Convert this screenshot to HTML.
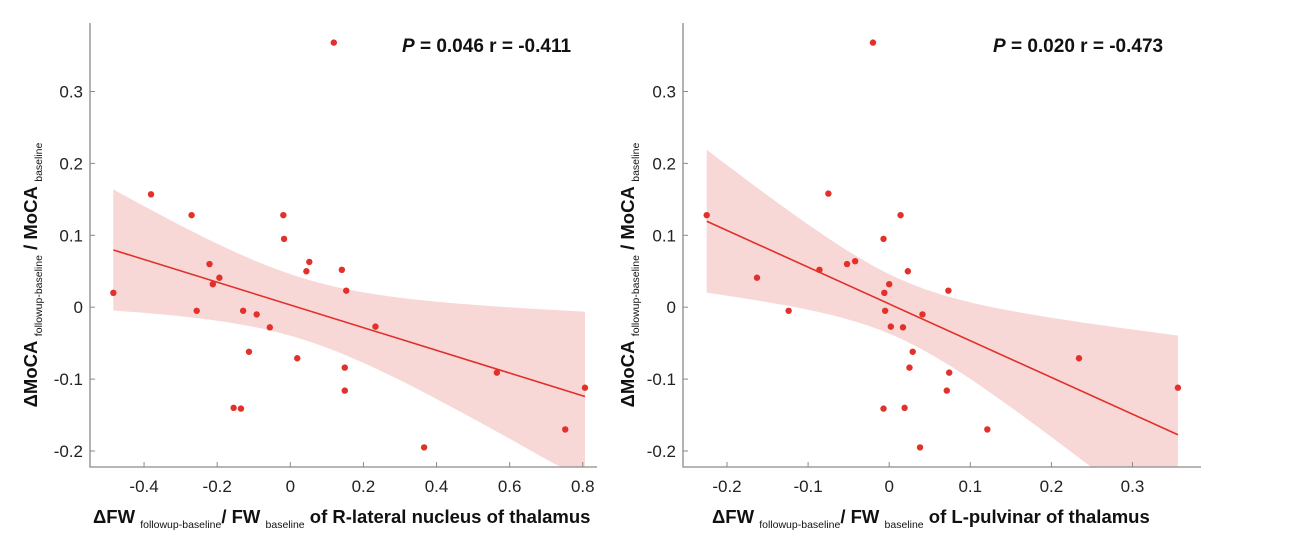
<!DOCTYPE html>
<html><head><meta charset="utf-8"><style>
html,body{margin:0;padding:0;background:#fff;}
svg{display:block;font-family:"Liberation Sans",Arial,sans-serif;}
</style></head><body>
<svg id="chart" width="1301" height="550" viewBox="0 0 1301 550"></svg>
<script>
const yValues=[0.368,0.157,0.128,0.128,0.095,0.063,0.050,0.052,0.023,0.060,0.041,0.032,0.020,-0.005,-0.005,-0.010,-0.028,-0.027,-0.062,-0.071,-0.084,-0.116,-0.091,-0.112,-0.140,-0.141,-0.170,-0.195];
const xLeft=[0.119,-0.381,-0.270,-0.019,-0.017,0.052,0.044,0.141,0.153,-0.221,-0.194,-0.212,-0.484,-0.256,-0.129,-0.092,-0.056,0.233,-0.113,0.019,0.149,0.149,0.565,0.806,-0.155,-0.135,0.752,0.366];
const yRight=[0.368,0.158,0.128,0.128,0.095,0.064,0.060,0.050,0.052,0.041,0.032,0.023,0.020,-0.005,-0.005,-0.010,-0.027,-0.028,-0.062,-0.084,-0.091,-0.116,-0.071,-0.112,-0.141,-0.140,-0.170,-0.195];
const xRight=[-0.020,-0.075,-0.225,0.014,-0.007,-0.042,-0.052,0.023,-0.086,-0.163,0.000,0.073,-0.006,-0.124,-0.005,0.041,0.002,0.017,0.029,0.025,0.074,0.071,0.234,0.356,-0.007,0.019,0.121,0.038];
const xTicksLeft=[-0.4,-0.2,0,0.2,0.4,0.6,0.8];
const xTickLabelsLeft=["-0.4","-0.2","0","0.2","0.4","0.6","0.8"];
const xTicksRight=[-0.2,-0.1,0,0.1,0.2,0.3];
const xTickLabelsRight=["-0.2","-0.1","0","0.1","0.2","0.3"];
const yTicks=[-0.2,-0.1,0,0.1,0.2,0.3];
const yTickLabels=["-0.2","-0.1","0","0.1","0.2","0.3"];
const statsLeft=["0.046","-0.411"];
const statsRight=["0.020","-0.473"];

const NS="http://www.w3.org/2000/svg";
const svg=document.getElementById('chart');
function mk(tag,attrs,parent){const e=document.createElementNS(NS,tag);for(const k in attrs)e.setAttribute(k,attrs[k]);(parent||svg).appendChild(e);return e;}

function panel(cfg){
  const g=mk('g',{});
  
  
  const X=v=>cfg.x0+v*cfg.xs;
  const Y=v=>307.2-v*719;
  const top=23,bottom=467;
  const xs=cfg.xd, ys=cfg.yd, n=xs.length;
  const mx=xs.reduce((a,b)=>a+b,0)/n, my=ys.reduce((a,b)=>a+b,0)/n;
  let sxx=0,sxy=0;for(let i=0;i<n;i++){sxx+=(xs[i]-mx)**2;sxy+=(xs[i]-mx)*(ys[i]-my);}
  const b=sxy/sxx,a=my-b*mx;
  let sse=0;for(let i=0;i<n;i++)sse+=(ys[i]-a-b*xs[i])**2;
  const s=Math.sqrt(sse/(n-2)),t=2.056;
  const xmin=Math.min(...xs),xmax=Math.max(...xs);
  const up=[],lo=[];
  for(let k=0;k<=60;k++){const xv=xmin+(xmax-xmin)*k/60;const h=t*s*Math.sqrt(1/n+(xv-mx)**2/sxx);
    up.push([X(xv),Math.max(top,Y(a+b*xv+h))]);lo.push([X(xv),Math.min(bottom,Y(a+b*xv-h))]);}
  const pts=up.concat(lo.reverse()).map(p=>p[0].toFixed(1)+','+p[1].toFixed(1)).join(' ');
  const band=mk('polygon',{points:pts,fill:'#f8d7d7',stroke:'none'},g);
  
  
  const line=mk('line',{x1:X(xmin),y1:Y(a+b*xmin),x2:X(xmax),y2:Y(a+b*xmax),stroke:'#e0302a','stroke-width':1.6},g);
  
  
  const ax=mk('path',{d:`M${cfg.left},${top} V${bottom} H${cfg.right}`,stroke:'#8a8a8a','stroke-width':1.3,fill:'none'},g);
  
  
  cfg.xt.forEach((v,i)=>{
    mk('line',{x1:X(v),y1:bottom,x2:X(v),y2:bottom-5,stroke:'#8a8a8a'},g);
    const tl=mk('text',{x:X(v),y:bottom+25,'text-anchor':'middle','font-size':17,fill:'#222'},g);
    tl.textContent=cfg.xl[i];
    
    
  });
  yTicks.forEach((v,i)=>{
    mk('line',{x1:cfg.left,y1:Y(v),x2:cfg.left+5,y2:Y(v),stroke:'#8a8a8a'},g);
    const tl=mk('text',{x:cfg.left-7,y:Y(v)+6,'text-anchor':'end','font-size':17,fill:'#222'},g);
    tl.textContent=yTickLabels[i];
    
    
  });
  for(let i=0;i<n;i++){
    const c=mk('circle',{cx:X(xs[i]),cy:Y(ys[i]),r:3.2,fill:'#e2302b'},g);
    
    
  }
  const st=mk('text',{x:cfg.statX,y:52,'font-size':19,'font-weight':'bold',fill:'#111'},g);
  st.innerHTML=`<tspan font-style="italic">P</tspan> = ${cfg.stats[0]} r = ${cfg.stats[1]}`;
  
  
  const xt=mk('text',{x:cfg.titleX,y:523,'font-size':18.5,'font-weight':'bold',fill:'#111'},g);
  xt.innerHTML=`ΔFW <tspan font-size="10.5" font-weight="normal" dy="5">followup-baseline</tspan><tspan dy="-5">/ FW </tspan><tspan font-size="10.5" font-weight="normal" dy="5">baseline</tspan><tspan dy="-5"> of ${cfg.region}</tspan>`;
  
  
  const yt=mk('text',{x:0,y:0,'font-size':18.5,'font-weight':'bold',fill:'#111','text-anchor':'middle',transform:`translate(${cfg.ytX},275) rotate(-90)`},g);
  yt.innerHTML=`ΔMoCA <tspan font-size="10.5" font-weight="normal" dy="5">followup-baseline</tspan><tspan dy="-5"> / MoCA </tspan><tspan font-size="10.5" font-weight="normal" dy="5">baseline</tspan>`;
  
  
}
panel({name:'left-panel',x0:290.3,xs:365.6,left:90,right:597,xd:xLeft,yd:yValues,xt:xTicksLeft,xl:xTickLabelsLeft,stats:statsLeft,statX:402,titleX:93,region:'R-lateral nucleus of thalamus',ytX:37});
panel({name:'right-panel',x0:889.2,xs:811,left:683,right:1201,xd:xRight,yd:yRight,xt:xTicksRight,xl:xTickLabelsRight,stats:statsRight,statX:993,titleX:712,region:'L-pulvinar of thalamus',ytX:634});
</script>
</body></html>
